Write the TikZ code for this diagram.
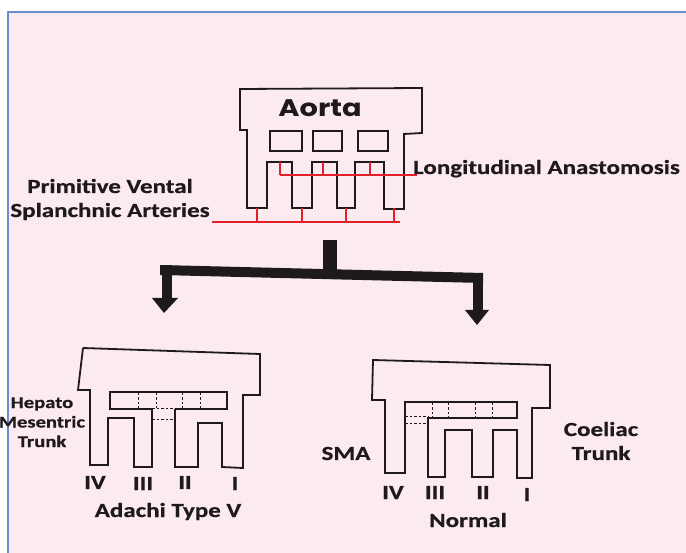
\documentclass[tikz,border=0pt]{standalone}
\usepackage{fontspec}
\setmainfont[FakeStretch=1.25,FakeBold=0.6]{Carlito}
\newfontfamily\aortafont[FakeStretch=1.2]{Poppins}
\definecolor{bg}{HTML}{FBEAF0}
\definecolor{framecol}{HTML}{6A8FD0}
\definecolor{ink}{HTML}{1E1A1C}
\definecolor{artred}{HTML}{E3202A}
\begin{document}
\begin{tikzpicture}[x=1pt,y=-1pt,line join=miter,
  outline/.style={draw=ink,line width=1.8pt},
  dashline/.style={draw=ink,line width=1pt,dash pattern=on 2.5pt off 2pt},
  redline/.style={draw=artred,line width=1.5pt},
  lbl/.style={font=\bfseries\fontsize{20}{24}\selectfont,text=ink,inner sep=0pt},
  smalllbl/.style={font=\bfseries\fontsize{16.5}{19.5}\selectfont,text=ink,inner sep=0pt,align=center}]
\useasboundingbox (0,0) rectangle (686,553);
\fill[white] (0,0) rectangle (686,553);
\fill[bg] (8,12) rectangle (686,553);
\draw[framecol,line width=1.5pt] (8,553) -- (8,12) -- (686,12);

% ---------- Aorta ----------
\draw[outline] (240,89) -- (422,88) -- (422,133) -- (404,134) -- (404,209) -- (384,209)
  -- (384,162) -- (355,162) -- (355,208) -- (337,208) -- (337,162) -- (312,162)
  -- (312,208) -- (292,208) -- (292,162) -- (267,162) -- (267,208) -- (247,208)
  -- (247,130) -- (240,130) -- cycle;
\draw[outline] (270,131) rectangle (302,151);
\draw[outline] (313,131) rectangle (342,151);
\draw[outline] (358,131) rectangle (388,151);
\node[font=\aortafont\bfseries\fontsize{24}{28}\selectfont,text=ink,inner sep=0pt,anchor=base] (aorta) at (320,117) {Aorta};

% red anastomoses
\coordinate (la1) at (280,175); \coordinate (la2) at (417,175);
\draw[redline] (la1) -- (la2);
\draw[redline] (280,162) -- (280,175) (323,162) -- (323,175) (370,162) -- (370,175);
\coordinate (pv1) at (212,222); \coordinate (pv2) at (400,222);
\draw[redline] (pv1) -- (pv2);
\draw[redline] (257,208) -- (257,222) (302,208) -- (302,222) (346,208) -- (346,222) (394,208) -- (394,222);

\node[lbl,anchor=base west] (longi) at (413,174) {Longitudinal Anastomosis};
\node[lbl,anchor=base,align=center] (prim) at (110,217) {Primitive Vental\\Splanchnic Arteries};

% ---------- branching arrow ----------
\fill[ink] (323,240) rectangle (337,272);
\fill[ink] (160,265) -- (483,273) -- (483,283) -- (160,275) -- cycle;
\fill[ink] (162,265) rectangle (172,300);
\fill[ink] (152,298) -- (178,298) -- (164,313) -- cycle;
\fill[ink] (473,275) rectangle (483,312);
\fill[ink] (465,310) -- (489,310) -- (477,325) -- cycle;

% ---------- Adachi type V ----------
\draw[outline] (83,348) -- (260,354) -- (260,395) -- (243,395) -- (243,468) -- (222,467)
  -- (222,423) -- (198,423) -- (198,467) -- (175,467) -- (175,409);
\draw[outline] (152,409) -- (152,467) -- (134,467) -- (134,418) -- (108,418) -- (108,465)
  -- (90,465) -- (90,390) -- (78,390) -- (83,348);
\draw[outline] (175,409) -- (227,409) -- (227,392) -- (110,392) -- (110,409) -- (152,409);
\draw[dashline] (152,409) -- (175,409) (152,420) -- (175,420);
\draw[dashline] (138,393) -- (138,408) (156,393) -- (156,408) (182,393) -- (182,408) (200,393) -- (200,408);

\node[smalllbl,anchor=base] (hepato) at (42,447) {Hepato\\Mesentric\\Trunk};
\node[lbl,anchor=base] (l4) at (95,489) {IV};
\node[lbl,anchor=base] (l3) at (143,490) {III};
\node[lbl,anchor=base] (l2) at (185,489) {II};
\node[lbl,anchor=base] (l1) at (235,490) {I};
\node[lbl,anchor=base] (adachi) at (168,517) {Adachi Type V};

% ---------- Normal ----------
\draw[outline] (373,360) -- (550,365) -- (550,408) -- (532,408) -- (532,478) -- (517,478)
  -- (517,430) -- (493,430) -- (493,477) -- (472,477) -- (472,430) -- (445,430)
  -- (445,477) -- (428,477) -- (428,418) -- (517,418) -- (517,402) -- (405,402)
  -- (405,473) -- (385,473) -- (385,400) -- (372,400) -- cycle;
\draw[dashline] (405,417) -- (428,417) (405,424) -- (428,424);
\draw[dashline] (432,403) -- (432,417) (448,403) -- (448,417) (475,403) -- (475,417) (492,403) -- (492,417);

\node[lbl,anchor=base] (sma) at (346,460) {SMA};
\node[lbl,anchor=base,align=center] (coeliac) at (601,460) {Coeliac\\Trunk};
\node[lbl,anchor=base] (r4) at (393,499) {IV};
\node[lbl,anchor=base] (r3) at (435,499) {III};
\node[lbl,anchor=base] (r2) at (483,499) {II};
\node[lbl,anchor=base] (r1) at (527,501) {I};
\node[lbl,anchor=base] (normal) at (468,527) {Normal};
\end{tikzpicture}
\end{document}
